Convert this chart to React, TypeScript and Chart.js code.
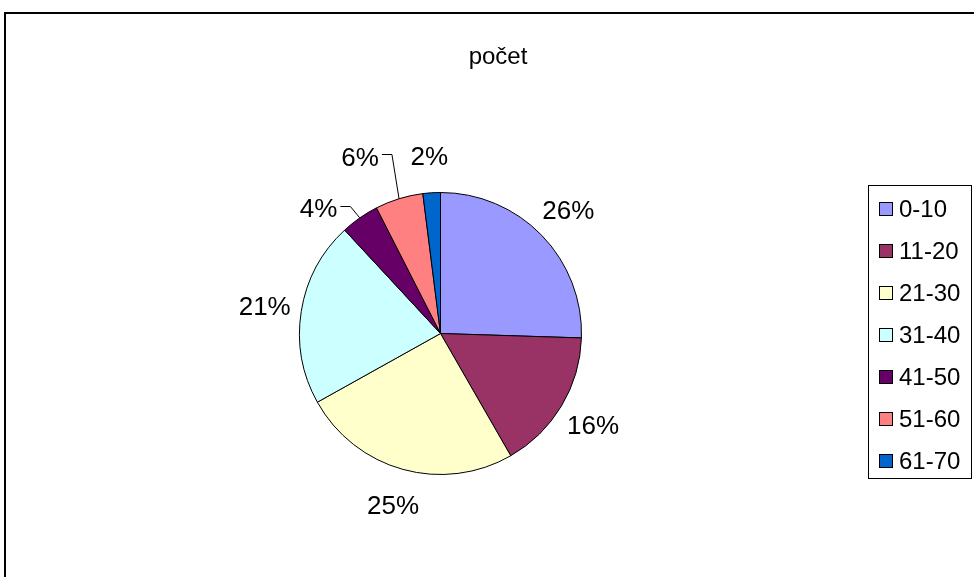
import React, { useEffect, useRef } from "react";
import { Chart, registerables } from "chart.js";

Chart.register(...registerables);

const TITLE = "počet";
const CATEGORIES = ["0-10", "11-20", "21-30", "31-40", "41-50", "51-60", "61-70"];
const VALUES = [25.5, 16.2, 25.2, 21.2, 4.4, 5.5, 2.0];
const COLORS = ["#9999FF", "#993366", "#FFFFCC", "#CCFFFF", "#660066", "#FF8080", "#0066CC"];

// manual label displacement (Excel moved labels with leader lines)
const LABEL_SHIFT: Record<number, [number, number]> = { 4: [-20, 20], 5: [-28, -7] };

const FONT = '"Liberation Sans", Arial, sans-serif';

const excelPlugin = {
  id: "excelDecor",
  beforeDraw(chart: any) {
    const ctx = chart.ctx;
    ctx.save();
    ctx.fillStyle = "#ffffff";
    ctx.fillRect(0, 0, chart.width, chart.height);
    ctx.strokeStyle = "#000000";
    ctx.lineWidth = 2;
    ctx.strokeRect(5, 13, chart.width + 40, chart.height + 40);
    ctx.fillStyle = "#000";
    ctx.font = `24px ${FONT}`;
    ctx.textAlign = "center";
    ctx.textBaseline = "alphabetic";
    ctx.fillText(TITLE, 498, 64);
    ctx.restore();
  },
  afterDatasetsDraw(chart: any) {
    const ctx = chart.ctx;
    const meta = chart.getDatasetMeta(0);
    const data = chart.data.datasets[0].data as number[];
    const total = Math.round(data.reduce((a, b) => a + b, 0) * 1e6) / 1e6;
    ctx.save();
    const fs = 26;
    ctx.font = `${fs}px ${FONT}`;
    ctx.fillStyle = "#000";
    ctx.strokeStyle = "#000";
    ctx.lineWidth = 1;
    ctx.textAlign = "center";
    ctx.textBaseline = "alphabetic";
    meta.data.forEach((arc: any, i: number) => {
      const { x, y, startAngle, endAngle, outerRadius } = arc.getProps(
        ["x", "y", "startAngle", "endAngle", "outerRadius"],
        true
      );
      const mid = (startAngle + endAngle) / 2;
      const pct = Math.round(((data[i] * 100) / total) * 1e6) / 1e6;
      const txt = Math.round(pct) + "%";
      let lx = x + Math.cos(mid) * (outerRadius + 37);
      let ly = y + Math.sin(mid) * (outerRadius + 37);
      const sh = LABEL_SHIFT[i];
      if (sh) {
        lx += sh[0];
        ly += sh[1];
        const w = ctx.measureText(txt).width;
        const right = lx + w / 2;
        ctx.beginPath();
        ctx.moveTo(right + 3, Math.round(ly) - 1.5);
        ctx.lineTo(right + 13, Math.round(ly) - 1.5);
        ctx.lineTo(x + Math.cos(mid) * outerRadius, y + Math.sin(mid) * outerRadius);
        ctx.stroke();
      }
      ctx.fillText(txt, lx, ly + fs * 0.36);
    });
    ctx.restore();
  },
  afterDraw(chart: any) {
    const ctx = chart.ctx;
    const ds = chart.data.datasets[0];
    ctx.save();
    ctx.strokeStyle = "#000";
    ctx.lineWidth = 1;
    ctx.strokeRect(868.5, 185.5, 103, 293);
    ctx.font = `24px ${FONT}`;
    ctx.textAlign = "left";
    ctx.textBaseline = "alphabetic";
    (chart.data.labels as string[]).forEach((lab, i) => {
      const top = 202 + 42 * i;
      ctx.fillStyle = (ds.backgroundColor as string[])[i];
      ctx.fillRect(879.5, top + 0.5, 13, 13);
      ctx.strokeRect(879.5, top + 0.5, 13, 13);
      ctx.fillStyle = "#000";
      ctx.fillText(lab, 899, top + 15);
    });
    ctx.restore();
  },
};

export default function App() {
  const ref = useRef<HTMLCanvasElement | null>(null);
  useEffect(() => {
    if (!ref.current) return;
    const chart = new Chart(ref.current, {
      type: "pie",
      data: {
        labels: CATEGORIES,
        datasets: [
          {
            data: VALUES,
            backgroundColor: COLORS,
            borderColor: "#000000",
            borderWidth: 1,
          },
        ],
      },
      options: {
        animation: false,
        responsive: true,
        maintainAspectRatio: false,
        devicePixelRatio: 1,
        events: [],
        layout: { padding: { left: 299, right: 392, top: 192, bottom: 102 } },
        plugins: {
          legend: { display: false },
          title: { display: false },
          tooltip: { enabled: false },
        },
      },
      plugins: [excelPlugin],
    });
    return () => chart.destroy();
  }, []);
  return (
    <div style={{ position: "fixed", left: 0, top: 0, width: 974, height: 577, background: "#fff" }}>
      <canvas ref={ref} />
    </div>
  );
}
